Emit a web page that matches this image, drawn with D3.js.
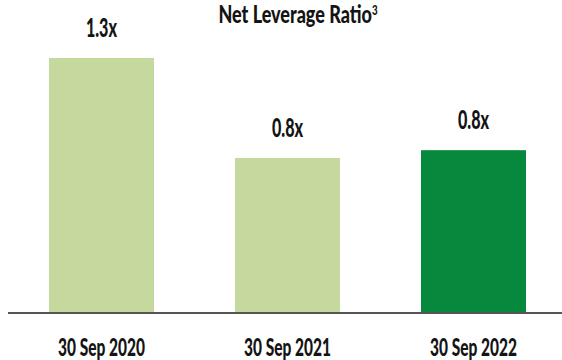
<!DOCTYPE html>
<html>
<head>
<meta charset="utf-8">
<script src="https://cdn.jsdelivr.net/npm/d3@7"></script>
<style>
  html, body { margin: 0; padding: 0; background: #fff; }
  svg { display: block; }
  text { font-family: Lato, "Open Sans", sans-serif; font-weight: 900; fill: #141414; }
</style>
</head>
<body>
<svg id="chart" width="562" height="360"></svg>
<script>
// Net leverage ratio at each period end
const categories = ["30 Sep 2020", "30 Sep 2021", "30 Sep 2022"];
const ratios = [1.30, 0.79, 0.83];
const barColors = ["#c5d89d", "#c5d89d", "#06883d"];

const W = 562, H = 360;
const baseY = 313;
const squeeze = 0.62;   // condensed lettering
const svg = d3.select("#chart");

const x = d3.scaleBand()
  .domain(categories)
  .range([0, 575])
  .paddingInner(0.4355)
  .paddingOuter(0.2634);

const y = d3.scaleLinear()
  .domain([0, 1.3])
  .range([baseY, 58]);

const fmt = d3.format(".1f");
const cx = c => x(c) + x.bandwidth() / 2;

svg.selectAll("rect.bar")
  .data(ratios)
  .join("rect")
  .attr("class", "bar")
  .attr("x", (d, i) => x(categories[i]))
  .attr("width", x.bandwidth())
  .attr("y", d => y(d))
  .attr("height", d => baseY - y(d))
  .attr("fill", (d, i) => barColors[i]);

svg.selectAll("text.val")
  .data(ratios)
  .join("text")
  .attr("class", "val")
  .attr("transform", (d, i) => `translate(${cx(categories[i])},${y(d) - 21}) scale(${squeeze},1)`)
  .attr("text-anchor", "middle")
  .style("font-size", "26px")
  .text(d => fmt(d) + "x");

// baseline and category labels
const axis = d3.axisBottom(x).tickSize(0).tickFormat(() => "");
const g = svg.append("g")
  .attr("transform", `translate(0,${baseY})`)
  .call(axis);
g.select(".domain").remove();
g.append("line")
  .attr("x1", 8).attr("x2", W)
  .attr("y1", 0).attr("y2", 0)
  .attr("stroke", "#555").attr("stroke-width", 2.2);
g.selectAll(".tick").append("text")
  .attr("transform", `translate(0,43) scale(${squeeze},1)`)
  .attr("text-anchor", "middle")
  .style("font-size", "25px")
  .text(d => d);

// title
const title = svg.append("text")
  .attr("transform", `translate(298,23) scale(0.75,1)`)
  .attr("text-anchor", "middle")
  .style("font-size", "24px");
title.append("tspan").text("Net Leverage Ratio");
title.append("tspan")
  .attr("dy", -8)
  .style("font-size", "13px")
  .text("3");
</script>
</body>
</html>
